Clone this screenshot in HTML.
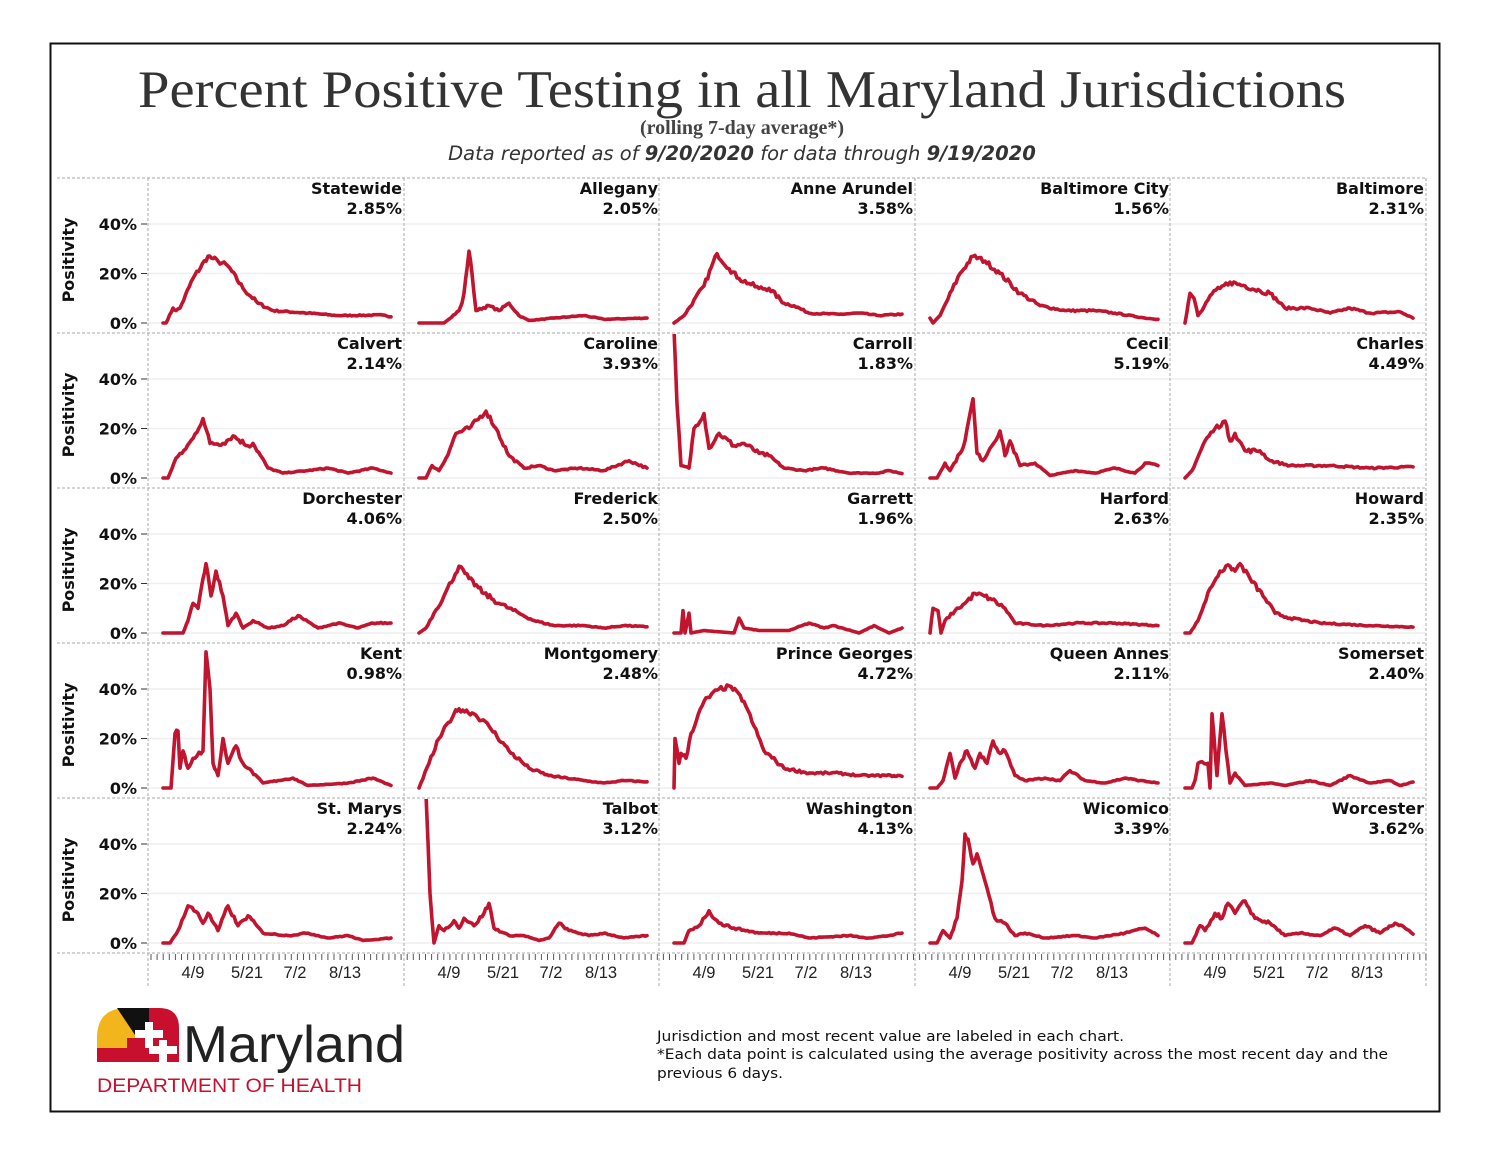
<!DOCTYPE html>
<html><head><meta charset="utf-8">
<style>
body{margin:0;background:#fff;}
svg text{font-family:"DejaVu Sans","Liberation Sans",sans-serif;}
</style></head>
<body>
<svg id="s" width="1496" height="1162" xmlns="http://www.w3.org/2000/svg">
<rect x="0" y="0" width="1496" height="1162" fill="#fff"/>
<rect x="50.5" y="43.5" width="1389" height="1068" fill="none" stroke="#111" stroke-width="2"/>
<text x="742" y="107" text-anchor="middle" textLength="1208" lengthAdjust="spacingAndGlyphs" style="font-family:'Liberation Serif',serif;font-size:53px" fill="#333">Percent Positive Testing in all Maryland Jurisdictions</text>
<text x="742" y="134" text-anchor="middle" style="font-family:'Liberation Serif',serif;font-size:20px;font-weight:bold" fill="#444">(rolling 7-day average*)</text>
<text x="742" y="160" text-anchor="middle" style="font-size:19.5px;font-style:italic" fill="#333">Data reported as of <tspan font-weight="bold">9/20/2020</tspan> for data through <tspan font-weight="bold">9/19/2020</tspan></text>
<g id="g"></g>
<g transform="translate(97,1008)">
<path d="M0,30 Q0,0 30,0 L52,0 L52,30 Z" fill="#f2b51c"/>
<path d="M20,0 L52,0 L52,30 L40,30 Z" fill="#111"/>
<path d="M52,0 L62,0 Q82,0 82,20 L82,30 L52,30 Z" fill="#c8102e"/>
<rect x="0" y="30" width="82" height="24" fill="#c8102e"/>
<rect x="0" y="30" width="30" height="10" fill="#f2b51c"/>
<path d="M38,22 h10 v-8 h8 v8 h10 v8 h-10 v10 h-8 v-10 h-10 z" fill="#fff"/>
<path d="M52,38 h10 v-6 h8 v6 h10 v8 h-10 v8 h-8 v-8 h-10 z" fill="#fff"/>
<text x="86" y="54" textLength="222" lengthAdjust="spacingAndGlyphs" style="font-family:'Liberation Sans',sans-serif;font-size:52px" fill="#222">Maryland</text>
<text x="0" y="84" textLength="265" lengthAdjust="spacingAndGlyphs" style="font-family:'Liberation Sans',sans-serif;font-size:19px" fill="#c8102e">DEPARTMENT OF HEALTH</text>
</g>
<g fill="#111">
<text x="657" y="1041" textLength="467" lengthAdjust="spacingAndGlyphs" style="font-family:'DejaVu Sans',sans-serif;font-size:14px">Jurisdiction and most recent value are labeled in each chart.</text>
<text x="657" y="1059" textLength="731" lengthAdjust="spacingAndGlyphs" style="font-family:'DejaVu Sans',sans-serif;font-size:14px">*Each data point is calculated using the average positivity across the most recent day and the</text>
<text x="657" y="1078" textLength="126" lengthAdjust="spacingAndGlyphs" style="font-family:'DejaVu Sans',sans-serif;font-size:14px">previous 6 days.</text>
</g>
</svg>
<script>
var D=[
["Statewide","2.85%",[[15,0],[18,0],[25,6],[28,5],[32,6],[45,18],[60,27],[65,26],[70,25],[80,23],[95,14],[110,8],[125,5],[160,4],[190,3],[235,3.2],[243,2.5]]],
["Allegany","2.05%",[[15,0],[40,0],[55,5],[58,8],[60,12],[65,29],[68,20],[72,5],[85,7],[95,5],[105,8],[115,3],[125,1],[150,2],[180,3],[200,1.5],[243,2]]],
["Anne Arundel","3.58%",[[15,0],[25,3],[45,15],[58,28],[70,22],[80,18],[90,16],[100,14],[110,14],[125,8],[135,7],[150,4],[180,3.5],[200,4],[220,3],[243,3.6]]],
["Baltimore City","1.56%",[[15,2],[18,0],[25,3],[45,20],[58,27],[70,25],[85,20],[105,12],[125,7],[150,5],[180,5],[200,4],[230,2],[243,1.5]]],
["Baltimore","2.31%",[[15,0],[20,12],[24,10],[28,3],[32,5],[40,11],[50,14],[60,16.5],[75,15],[90,13],[100,12],[115,6],[140,6],[160,4],[180,6],[200,4],[230,4.5],[243,2]]],
["Calvert","2.14%",[[15,0],[20,0],[28,8],[34,10],[45,16],[55,24],[62,14],[75,14],[85,17],[100,13],[105,14],[120,4],[135,2],[160,3],[180,4],[200,2],[225,4],[243,2]]],
["Caroline","3.93%",[[15,0],[22,0],[28,5],[35,3],[42,8],[52,18],[65,20],[82,27],[92,20],[105,9],[120,4],[135,5],[150,3],[175,4],[200,3],[225,7],[243,4]]],
["Carroll","1.83%",[[15,60],[18,30],[22,5],[30,4],[35,20],[45,26],[50,12],[60,18],[75,13],[85,14],[100,10],[110,9],[125,4],[145,3],[165,4],[190,2],[220,2],[230,3],[243,1.8]]],
["Cecil","5.19%",[[15,0],[22,0],[30,6],[35,3],[45,10],[50,15],[58,32],[62,10],[68,7],[75,12],[85,19],[90,9],[95,15],[105,5],[120,6],[135,1],[160,3],[180,2],[200,4],[220,2],[230,6],[243,5]]],
["Charles","4.49%",[[15,0],[22,3],[35,15],[45,20],[55,23],[60,15],[65,18],[75,11],[90,11],[100,7],[120,5],[160,5],[200,4],[243,4.5]]],
["Dorchester","4.06%",[[15,0],[35,0],[40,5],[45,12],[50,10],[55,22],[58,28],[63,15],[68,25],[75,15],[80,3],[88,8],[95,2],[105,5],[120,2],[135,3],[150,7],[170,2],[190,4],[210,2],[225,4],[243,4]]],
["Frederick","2.50%",[[15,0],[22,2],[30,8],[40,15],[55,27],[65,22],[80,16],[95,12],[115,8],[130,5],[150,3],[180,3],[200,2],[220,3],[243,2.5]]],
["Garrett","1.96%",[[15,0],[22,0],[24,9],[26,0],[30,8],[32,0],[45,1],[75,0],[80,6],[85,2],[100,1],[130,1],[150,4],[165,2],[175,3],[200,0],[215,3],[230,0],[243,2]]],
["Harford","2.63%",[[15,0],[18,10],[23,9],[26,0],[30,5],[40,9],[50,12],[60,16],[75,14],[90,10],[100,4],[130,3],[160,4],[200,4],[243,3]]],
["Howard","2.35%",[[15,0],[20,0],[28,5],[40,18],[50,25],[60,27],[65,25],[70,28],[80,22],[95,14],[105,8],[120,6],[150,4],[200,3],[243,2.4]]],
["Kent","0.98%",[[15,0],[23,0],[27,22],[30,23],[32,8],[35,15],[40,8],[45,12],[55,15],[58,55],[62,40],[65,10],[70,5],[75,20],[80,10],[88,17],[95,10],[100,8],[115,2],[130,3],[145,4],[160,1],[200,2],[225,4],[243,1]]],
["Montgomery","2.48%",[[15,0],[25,10],[35,20],[50,30],[55,32],[70,30],[85,25],[105,15],[125,8],[145,5],[180,3],[200,2],[220,3],[243,2.5]]],
["Prince Georges","4.72%",[[15,0],[16,20],[20,10],[22,14],[27,12],[32,22],[45,35],[60,40],[72,41],[85,35],[95,25],[105,15],[125,8],[150,6],[180,6],[200,5],[235,5],[243,4.7]]],
["Queen Annes","2.11%",[[15,0],[22,0],[28,3],[35,14],[40,4],[45,10],[52,15],[60,8],[65,14],[72,10],[78,19],[85,14],[90,15],[100,5],[110,3],[130,4],[145,3],[155,7],[170,3],[190,2],[210,4],[225,3],[243,2]]],
["Somerset","2.40%",[[15,0],[22,0],[25,3],[28,10],[38,10],[40,0],[42,30],[47,5],[52,30],[56,15],[60,2],[65,6],[75,1],[100,2],[115,1],[140,3],[160,1],[180,5],[200,2],[220,3],[230,1],[243,2.4]]],
["St. Marys","2.24%",[[15,0],[22,0],[30,5],[40,15],[50,12],[55,8],[60,12],[70,5],[80,15],[90,7],[100,11],[115,4],[140,3],[160,4],[180,2],[200,3],[215,1],[243,2]]],
["Talbot","3.12%",[[22,60],[26,20],[30,0],[35,7],[40,5],[50,9],[55,6],[60,10],[70,7],[80,12],[85,16],[90,6],[105,3],[120,3],[135,1],[145,2],[155,8],[165,5],[185,3],[200,4],[220,2],[243,3]]],
["Washington","4.13%",[[15,0],[25,0],[30,5],[40,7],[50,13],[60,8],[75,6],[100,4],[130,4],[150,2],[190,3],[210,2],[230,3],[243,4]]],
["Wicomico","3.39%",[[15,0],[22,0],[28,5],[35,2],[42,10],[47,25],[50,44],[53,42],[58,32],[62,36],[70,25],[80,10],[90,8],[100,3],[110,4],[130,2],[160,3],[180,2],[210,4],[230,6],[243,3]]],
["Worcester","3.62%",[[15,0],[22,0],[30,7],[35,5],[45,12],[52,10],[58,16],[65,12],[75,17],[85,10],[100,8],[115,3],[130,4],[150,3],[165,6],[180,3],[195,7],[210,4],[225,8],[235,6],[243,3.6]]]
];
var cols=[148,404,659,915,1170],W=256,rows=[178,333,488,643,798],H=155;
var h='';
var seed=7;function rnd(){seed=(seed*16807)%2147483647;return seed/2147483647;}
h+='<defs>';
for(var r=0;r<5;r++)for(var c=0;c<5;c++)h+='<clipPath id="c'+r+c+'"><rect x="'+(cols[c]+1)+'" y="'+(rows[r]+1)+'" width="'+(W-2)+'" height="'+(H-1)+'"/></clipPath>';
h+='</defs>';
for(var r=0;r<5;r++){
 var t=rows[r],z=t+145;
 for(var c=0;c<5;c++){var x0=cols[c];
  [0,20,40].forEach(function(p){var y=z-p*2.475;h+='<line x1="'+x0+'" x2="'+(x0+W)+'" y1="'+y+'" y2="'+y+'" stroke="#efefef" stroke-width="1.5"/>';});
 }
 h+='<text transform="translate(74,'+(t+82)+') rotate(-90)" text-anchor="middle" font-size="16" font-weight="bold" fill="#111">Positivity</text>';
 [0,20,40].forEach(function(p){var y=z-p*2.475;h+='<text x="137" y="'+(y+6)+'" text-anchor="end" font-size="16" font-weight="bold" fill="#111">'+p+'%</text><line x1="141" x2="147" y1="'+y+'" y2="'+y+'" stroke="#333"/>';});
}
for(var r=0;r<=5;r++){var y=rows[0]+r*H;h+='<line x1="57" x2="1426" y1="'+y+'" y2="'+y+'" stroke="#aaa" stroke-dasharray="3,2"/>';}
for(var c=0;c<=5;c++){var x=(c<5?cols[c]:1426);h+='<line x1="'+x+'" x2="'+x+'" y1="178" y2="988" stroke="#aaa" stroke-dasharray="3,2"/>';}
for(var x=151;x<1426;x+=6.1)h+='<line x1="'+x.toFixed(1)+'" x2="'+x.toFixed(1)+'" y1="954" y2="960" stroke="#555"/>';
for(var c=0;c<5;c++){var x0=cols[c];
 [["4/9",45],["5/21",99],["7/2",147],["8/13",197]].forEach(function(d){h+='<text x="'+(x0+d[1])+'" y="978" text-anchor="middle" font-size="16.5" fill="#222" style="font-family:Liberation Sans,sans-serif">'+d[0]+'</text>';});
}
for(var i=0;i<25;i++){var r=Math.floor(i/5),c=i%5,x0=cols[c],t=rows[r],z=t+145,d=D[i];
 h+='<text x="'+(x0+254)+'" y="'+(t+16)+'" text-anchor="end" font-size="16" font-weight="bold" fill="#111">'+d[0]+'</text>';
 h+='<text x="'+(x0+254)+'" y="'+(t+36)+'" text-anchor="end" font-size="16" font-weight="bold" fill="#111">'+d[1]+'</text>';
 var p=d[2],pts=[];
 for(var k=0;k<p.length-1;k++){var a=p[k],b=p[k+1];var n=Math.max(1,Math.round((b[0]-a[0])/2));
  for(var j=0;j<n;j++){var f=j/n,v=a[1]+(b[1]-a[1])*f;if(j>0&&v>1)v+=(rnd()-0.5)*Math.min(2,v*0.15);if(v<0)v=0;pts.push([x0+a[0]+(b[0]-a[0])*f,z-v*2.475]);}}
 var l=p[p.length-1];pts.push([x0+l[0],z-l[1]*2.475]);
 h+='<polyline clip-path="url(#c'+r+c+')" fill="none" stroke="#c0142f" stroke-width="3.6" stroke-linejoin="round" stroke-linecap="round" points="'+pts.map(function(q){return q[0].toFixed(1)+','+q[1].toFixed(1)}).join(' ')+'"/>';
}
document.getElementById('g').innerHTML=h;
</script>
</body></html>
